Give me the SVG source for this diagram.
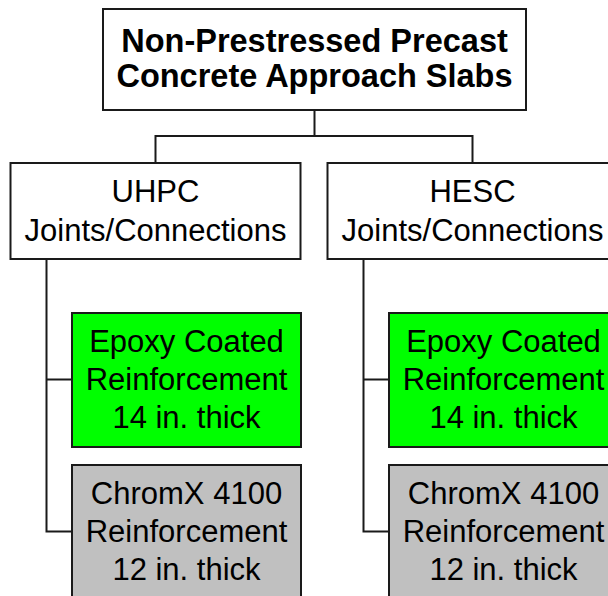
<svg xmlns="http://www.w3.org/2000/svg" width="608" height="596" viewBox="0 0 608 596">
<style>
.box{stroke:#1a1a1a;stroke-width:2}
.w{fill:#ffffff}
.g{fill:#00ff00}
.s{fill:#c0c0c0}
.t{font-family:"Liberation Sans",Arial,sans-serif;font-size:31px;fill:#000;text-anchor:middle}
.b{font-weight:bold;font-size:32.5px}
.c{fill:none;stroke:#1a1a1a;stroke-width:2}
</style>
<rect width="608" height="596" fill="#ffffff"/>
<g id="connectors">
<path class="c" d="M314.5 110V136M155.5 136H472.5M155.5 135V163M472.5 135V163"/>
<path class="c" d="M46.5 259V531.5H72M46.5 379.5H72"/>
<path class="c" d="M363.5 259V531.5H389M363.5 379.5H389"/>
</g>
<g id="root">
<rect class="box w" x="103" y="9" width="423" height="101"/>
<text class="t b" x="314.5" y="52">Non-Prestressed Precast</text>
<text class="t b" x="314.5" y="87">Concrete Approach Slabs</text>
</g>
<g id="uhpc">
<rect class="box w" x="10.5" y="163" width="290" height="96"/>
<text class="t" x="155.5" y="202">UHPC</text>
<text class="t" x="155.5" y="240.5">Joints/Connections</text>
</g>
<g id="hesc">
<rect class="box w" x="327.5" y="163" width="290" height="96"/>
<text class="t" x="472.5" y="202">HESC</text>
<text class="t" x="472.5" y="240.5">Joints/Connections</text>
</g>
<g id="uhpc-epoxy">
<rect class="box g" x="72" y="313" width="229" height="134"/>
<text class="t" x="186.5" y="352">Epoxy Coated</text>
<text class="t" x="186.5" y="389.5">Reinforcement</text>
<text class="t" x="186.5" y="428">14 in. thick</text>
</g>
<g id="uhpc-chromx">
<rect class="box s" x="72" y="465" width="229" height="134"/>
<text class="t" x="186.5" y="504">ChromX 4100</text>
<text class="t" x="186.5" y="541.5">Reinforcement</text>
<text class="t" x="186.5" y="580">12 in. thick</text>
</g>
<g id="hesc-epoxy">
<rect class="box g" x="389" y="313" width="229" height="134"/>
<text class="t" x="503.5" y="352">Epoxy Coated</text>
<text class="t" x="503.5" y="389.5">Reinforcement</text>
<text class="t" x="503.5" y="428">14 in. thick</text>
</g>
<g id="hesc-chromx">
<rect class="box s" x="389" y="465" width="229" height="134"/>
<text class="t" x="503.5" y="504">ChromX 4100</text>
<text class="t" x="503.5" y="541.5">Reinforcement</text>
<text class="t" x="503.5" y="580">12 in. thick</text>
</g>
</svg>
